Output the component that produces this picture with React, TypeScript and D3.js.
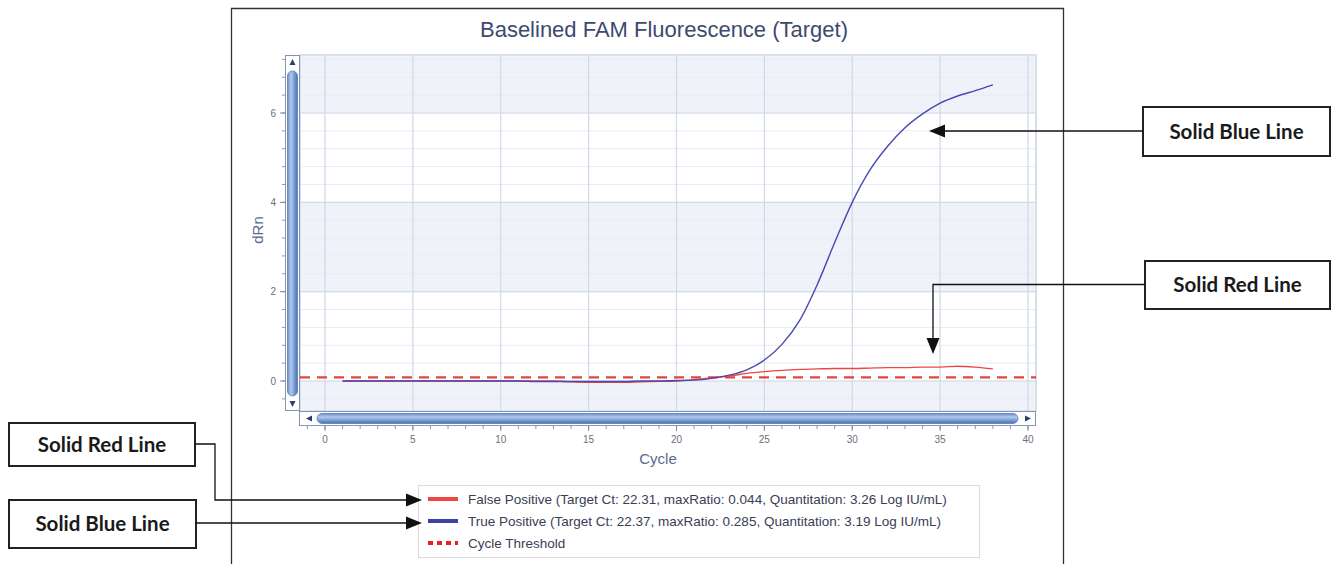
import React from "react";
import * as d3 from "d3";

const cycles = d3.range(1, 39);
const trueBlue = [
  0.0, 0.0, 0.0, 0.0, 0.0, 0.0, 0.0, 0.0, 0.0, 0.0,
  0.0, -0.01, -0.01, -0.01, -0.01, -0.01, -0.01, 0.0, 0.0, 0.01,
  0.02, 0.06, 0.13, 0.25, 0.47, 0.82, 1.35, 2.15, 3.1, 4.0,
  4.72, 5.25, 5.67, 5.98, 6.22, 6.38, 6.5, 6.63,
];
const falseRed = [
  0.0, 0.0, 0.0, 0.0, 0.0, 0.0, 0.0, 0.0, 0.0, 0.0,
  0.0, 0.0, 0.0, -0.02, -0.03, -0.03, -0.03, -0.02, -0.01, 0.0,
  0.03, 0.07, 0.11, 0.17, 0.21, 0.24, 0.26, 0.27, 0.28, 0.28,
  0.29, 0.3, 0.3, 0.31, 0.31, 0.33, 0.31, 0.27,
];
const threshold = 0.08;
const xTicks = [0, 5, 10, 15, 20, 25, 30, 35, 40];
const yTicks = [0, 2, 4, 6];
const legendLabels = [
  "False Positive (Target Ct: 22.31,  maxRatio: 0.044, Quantitation: 3.26 Log IU/mL)",
  "True Positive (Target Ct: 22.37,  maxRatio: 0.285, Quantitation: 3.19 Log IU/mL)",
  "Cycle Threshold",
];
const title = "Baselined FAM Fluorescence (Target)";

export default function App() {
  const W = 1341, H = 564;
  const plotL = 300, plotR = 1036, plotT = 55, plotB = 411;
  const x = d3.scaleLinear().domain([0, 40]).range([325, 1028]);
  const y = d3.scaleLinear().domain([0, 6]).range([381, 113]);
  const yTop = y.invert(plotT);
  const yBot = y.invert(plotB);

  const line = d3.line<number>()
    .x((_, i) => x(cycles[i]))
    .y((d) => y(d))
    .curve(d3.curveMonotoneX);

  const bands = [
    [6, yTop],
    [2, 4],
    [yBot, 0],
  ];
  const minorY = d3.range(-0.4, 7.3, 0.4).filter((v) => v > yBot && v < yTop);
  const minorXTicks = d3.range(-1, 41, 1);

  const font = "Liberation Sans, Arial, sans-serif";
  const boxFont = "Lato, 'Open Sans', sans-serif";

  const arrowLeft = (tx: number, ty: number) =>
    `M${tx},${ty} L${tx + 16},${ty - 6.5} L${tx + 16},${ty + 6.5} Z`;
  const arrowRight = (tx: number, ty: number) =>
    `M${tx},${ty} L${tx - 16},${ty - 6.5} L${tx - 16},${ty + 6.5} Z`;
  const arrowDown = (tx: number, ty: number) =>
    `M${tx},${ty} L${tx - 6.5},${ty - 16} L${tx + 6.5},${ty - 16} Z`;

  const boxes = [
    { x0: 1143, y0: 107, x1: 1330, y1: 156, label: "Solid Blue Line" },
    { x0: 1145, y0: 261, x1: 1330, y1: 309, label: "Solid Red Line" },
    { x0: 9, y0: 423, x1: 195, y1: 466, label: "Solid Red Line" },
    { x0: 9, y0: 500, x1: 196, y1: 548, label: "Solid Blue Line" },
  ];

  return (
    <div style={{ position: "absolute", left: 0, top: 0 }}>
      <svg width={W} height={H} style={{ display: "block", background: "#fff" }}>
        <defs>
          <linearGradient id="vthumb" x1="0" x2="1" y1="0" y2="0">
            <stop offset="0" stopColor="#6a8fca" />
            <stop offset="0.35" stopColor="#b3c9ea" />
            <stop offset="0.7" stopColor="#7699d2" />
            <stop offset="1" stopColor="#4a70b2" />
          </linearGradient>
          <linearGradient id="hthumb" x1="0" x2="0" y1="0" y2="1">
            <stop offset="0" stopColor="#6a8fca" />
            <stop offset="0.35" stopColor="#b3c9ea" />
            <stop offset="0.7" stopColor="#7699d2" />
            <stop offset="1" stopColor="#4a70b2" />
          </linearGradient>
          <clipPath id="plotclip">
            <rect x={plotL} y={plotT} width={plotR - plotL} height={plotB - plotT} />
          </clipPath>
        </defs>

        {/* chart frame */}
        <path d={`M231.5,${H + 2} L231.5,8.5 L1063.5,8.5 L1063.5,${H + 2}`} fill="none" stroke="#333" strokeWidth={1.3} />

        <text x={664} y={37} textAnchor="middle" fontFamily={font} fontSize={22} fill="#3d4a6e">{title}</text>

        {/* plot background */}
        <rect x={plotL} y={plotT} width={plotR - plotL} height={plotB - plotT} fill="#fff" stroke="#c9d3e2" />
        {bands.map(([a, b], i) => (
          <rect key={i} x={plotL} y={y(b)} width={plotR - plotL} height={y(a) - y(b)} fill="#eff3f9" />
        ))}
        {minorY.map((v, i) => (
          <line key={i} x1={plotL} x2={plotR} y1={y(v)} y2={y(v)} stroke="#e7ecf4" strokeWidth={1} />
        ))}
        {yTicks.map((v) => (
          <line key={v} x1={plotL} x2={plotR} y1={y(v)} y2={y(v)} stroke="#d3dbe7" strokeWidth={1.2} />
        ))}
        {xTicks.map((v) => (
          <line key={v} x1={x(v)} x2={x(v)} y1={plotT} y2={plotB} stroke="#d0d9e6" strokeWidth={1.2} />
        ))}
        <rect x={plotL} y={plotT} width={plotR - plotL} height={plotB - plotT} fill="none" stroke="#c9d3e2" />

        <g clipPath="url(#plotclip)">
          <line x1={plotL} x2={plotR} y1={y(threshold)} y2={y(threshold)} stroke="#e2453f" strokeWidth={2.2} strokeDasharray="10,7" />
          <path d={line(falseRed) || ""} fill="none" stroke="#ee4545" strokeWidth={1.3} />
          <path d={line(trueBlue) || ""} fill="none" stroke="#4a47b0" strokeWidth={1.4} />
        </g>

        {/* vertical scrollbar */}
        <rect x={285.5} y={55.5} width={14} height={355} fill="#fff" stroke="#7f93b3" />
        <rect x={287.5} y={71} width={10} height={325} rx={5} fill="url(#vthumb)" stroke="#5c7fb8" strokeWidth={0.8} />
        <path d="M292.5,59 L289.5,65 L295.5,65 Z" fill="#2d3f6a" />
        <path d="M292.5,407 L289.5,401 L295.5,401 Z" fill="#2d3f6a" />

        {/* horizontal scrollbar */}
        <rect x={299.5} y={411.5} width={736} height={14} fill="#fff" stroke="#7f93b3" />
        <rect x={317} y={413.5} width={701} height={10} rx={5} fill="url(#hthumb)" stroke="#5c7fb8" strokeWidth={0.8} />
        <path d="M306,418.5 L312,415.5 L312,421.5 Z" fill="#2d3f6a" />
        <path d="M1031,418.5 L1025,415.5 L1025,421.5 Z" fill="#2d3f6a" />

        {/* y axis ticks */}
        <line x1={285.5} x2={285.5} y1={plotT} y2={plotB} stroke="#8a97ad" />
        {minorY.map((v, i) => (
          <line key={i} x1={282} x2={285.5} y1={y(v)} y2={y(v)} stroke="#8a97ad" />
        ))}
        {yTicks.map((v) => (
          <g key={v}>
            <line x1={280} x2={285.5} y1={y(v)} y2={y(v)} stroke="#7d8aa0" />
            <text x={276} y={y(v) + 3.5} textAnchor="end" fontFamily={font} fontSize={10} fill="#6a6f7a">{v}</text>
          </g>
        ))}
        <text transform={`translate(263,230) rotate(-90)`} textAnchor="middle" fontFamily={font} fontSize={15} fill="#5a6b8e">dRn</text>

        {/* x axis ticks */}
        <line x1={plotL} x2={plotR} y1={425.5} y2={425.5} stroke="#8a97ad" />
        {minorXTicks.map((v) => (
          <line key={v} x1={x(v)} x2={x(v)} y1={425.5} y2={429} stroke="#8a97ad" />
        ))}
        {xTicks.map((v) => (
          <g key={v}>
            <line x1={x(v)} x2={x(v)} y1={425.5} y2={431} stroke="#7d8aa0" />
            <text x={x(v)} y={443} textAnchor="middle" fontFamily={font} fontSize={10} fill="#6a6f7a">{v}</text>
          </g>
        ))}
        <text x={658} y={464} textAnchor="middle" fontFamily={font} fontSize={15} fill="#5a6b8e">Cycle</text>

        {/* legend */}
        <rect x={418.5} y={485.5} width={561} height={72} fill="#fff" stroke="#dcdcdc" />
        <line x1={428} x2={458} y1={499} y2={499} stroke="#ee4545" strokeWidth={4} />
        <line x1={428} x2={458} y1={521} y2={521} stroke="#3c41a8" strokeWidth={4} />
        <line x1={428} x2={458} y1={543} y2={543} stroke="#e3251f" strokeWidth={4} strokeDasharray="5,4" />
        {legendLabels.map((t, i) => (
          <text key={i} x={468} y={504 + i * 22} fontFamily={font} fontSize={13.5} fill="#3a3d55">{t}</text>
        ))}

        {/* annotation boxes */}
        {boxes.map((b, i) => (
          <g key={i}>
            <rect x={b.x0} y={b.y0} width={b.x1 - b.x0} height={b.y1 - b.y0} fill="#fff" stroke="#222" strokeWidth={2} />
            <text x={(b.x0 + b.x1) / 2} y={(b.y0 + b.y1) / 2 + 7} textAnchor="middle" fontFamily={boxFont} fontSize={20.5} fontWeight={700} fill="#1a1a1a">{b.label}</text>
          </g>
        ))}

        {/* connectors */}
        <g stroke="#111" strokeWidth={1.3} fill="none">
          <path d="M1143,131 L944,131" />
          <path d="M1145,284.5 L933,284.5 L933,340" />
          <path d="M195,444 L215,444 L215,500 L406,500" />
          <path d="M196,523 L406,523" />
        </g>
        <g fill="#111">
          <path d={arrowLeft(929, 131)} />
          <path d={arrowDown(933, 354)} />
          <path d={arrowRight(422, 500)} />
          <path d={arrowRight(422, 523)} />
        </g>
      </svg>
    </div>
  );
}
